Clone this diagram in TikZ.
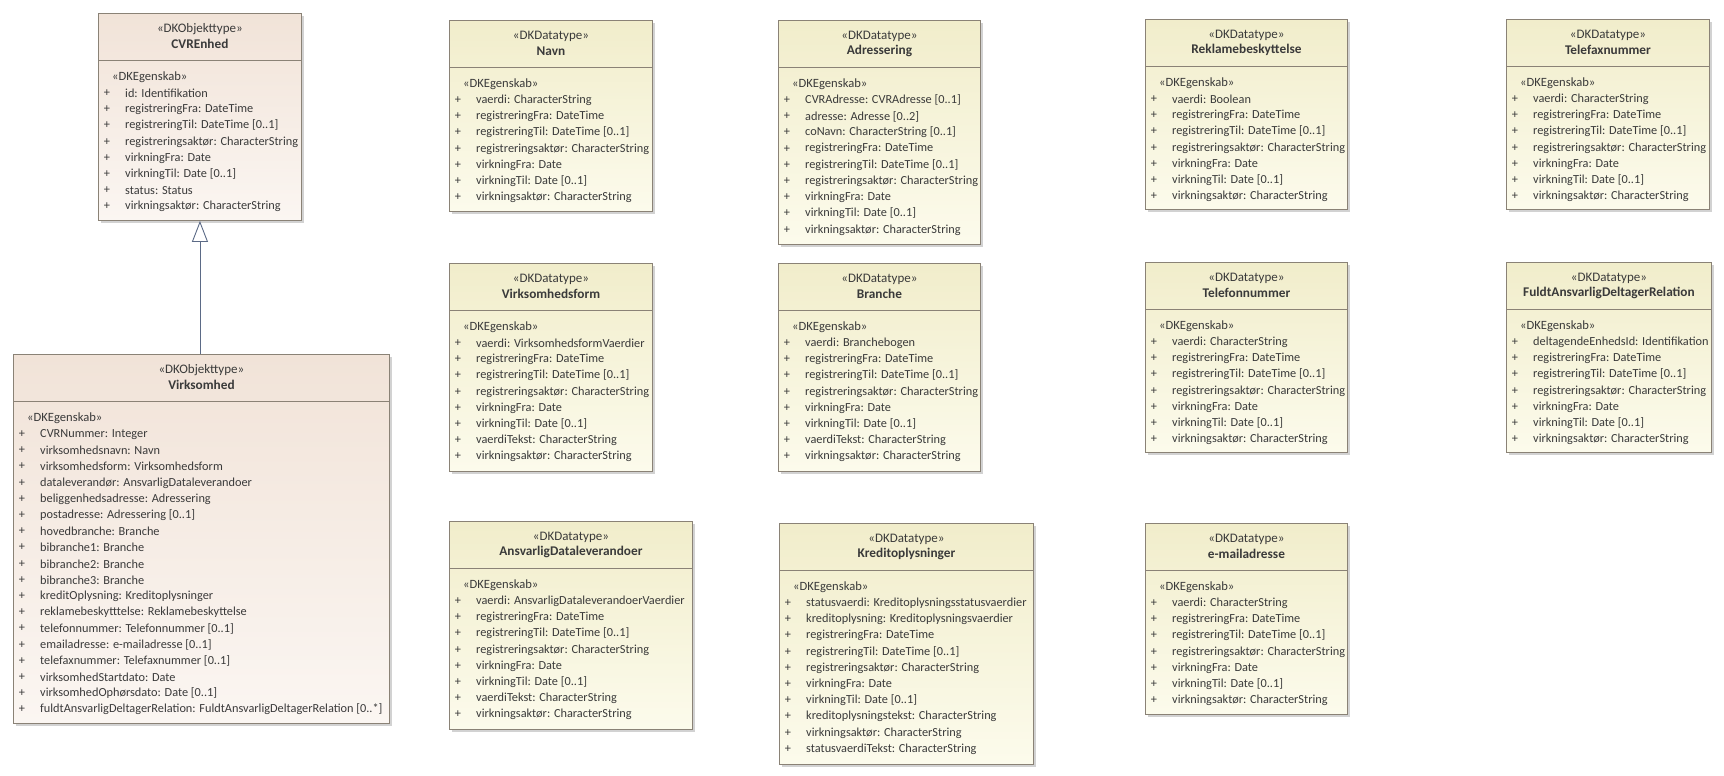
\documentclass[tikz,border=0pt]{standalone}
\usepackage{fontspec}
\setmainfont{Carlito}
\usetikzlibrary{arrows.meta,shadows}
\definecolor{bordercol}{HTML}{8A8276}
\definecolor{txtcol}{HTML}{3A3A3A}
\definecolor{objtop}{HTML}{F1E3D8}
\definecolor{objbot}{HTML}{FBF6F2}
\definecolor{dttop}{HTML}{F1EDCB}
\definecolor{dtbot}{HTML}{FCFBEC}
\definecolor{gencol}{HTML}{5B6A86}
\tikzset{
  umlbase/.style={draw=bordercol, line width=0.9pt, rectangle, inner sep=0pt,
    drop shadow={shadow xshift=3pt, shadow yshift=-3pt, fill=black!22, opacity=0.8}},
  objbox/.style={umlbase, top color=objtop, bottom color=objbot},
  dtbox/.style={umlbase, top color=dttop, bottom color=dtbot},
  divider/.style={draw=bordercol, line width=0.9pt},
  stereo/.style={font=\fontsize{13}{13}\selectfont, text=txtcol, inner sep=0pt},
  egtxt/.style={font=\fontsize{12.6}{12.6}\selectfont, text=txtcol, inner sep=0pt, anchor=west},
  titletxt/.style={font=\fontsize{13.3}{13.3}\selectfont\bfseries, text=txtcol, inner sep=0pt},
  plustxt/.style={font=\fontsize{12.3}{12.3}\selectfont, text=txtcol, inner sep=0pt},
  attrtxt/.style={font=\fontsize{12.3}{12.3}\selectfont, text=txtcol, inner sep=0pt, anchor=west},
  genline/.style={draw=gencol, line width=0.9pt, -{Triangle[open, length=21pt, width=16pt, fill=white]}}
}
% #1 name, #2 x, #3 y, #4 w, #5 h, #6 style, #7 stereotype, #8 title, #9 attributes
\newcommand\umlclass[9]{%
  \node[#6, minimum width=#4pt, minimum height=#5pt, anchor=north west] (#1) at (#2,#3) {};
  \draw[divider] ([yshift=-47pt]#1.north west) -- ([yshift=-47pt]#1.north east);
  \node[stereo] (#1-st) at ([yshift=-16pt]#1.north) {«#7»};
  \node[titletxt] (#1-ti) at ([yshift=-31pt]#1.north) {#8};
  \node[egtxt] (#1-eg) at ([xshift=14pt,yshift=-64pt]#1.north west) {«DKEgenskab»};
  \foreach \t [count=\i] in {#9} {
    \node[plustxt] (#1-p\i) at ([xshift=9pt,yshift={-64-16.2*\i}]#1.north west) {+};
    \node[attrtxt] (#1-a\i) at ([xshift=27pt,yshift={-64-16.2*\i}]#1.north west) {\t};
  }
}
\begin{document}
\begin{tikzpicture}[x=1pt,y=-1pt]
\useasboundingbox[fill=white] (0,0) rectangle (1724,776);

\umlclass{cvr}{98}{13}{203}{207}{objbox}{DKObjekttype}{CVREnhed}{%
{id: Identifikation},{registreringFra: DateTime},{registreringTil: DateTime [0..1]},%
{registreringsaktør: CharacterString},{virkningFra: Date},{virkningTil: Date [0..1]},%
{status: Status},{virkningsaktør: CharacterString}}

\umlclass{virk}{13}{354}{376}{369}{objbox}{DKObjekttype}{Virksomhed}{%
{CVRNummer: Integer},{virksomhedsnavn: Navn},{virksomhedsform: Virksomhedsform},%
{dataleverandør: AnsvarligDataleverandoer},{beliggenhedsadresse: Adressering},%
{postadresse: Adressering [0..1]},{hovedbranche: Branche},{bibranche1: Branche},%
{bibranche2: Branche},{bibranche3: Branche},{kreditOplysning: Kreditoplysninger},%
{reklamebeskytttelse: Reklamebeskyttelse},{telefonnummer: Telefonnummer [0..1]},%
{emailadresse: e-mailadresse [0..1]},{telefaxnummer: Telefaxnummer [0..1]},%
{virksomhedStartdato: Date},{virksomhedOphørsdato: Date [0..1]},%
{fuldtAnsvarligDeltagerRelation: FuldtAnsvarligDeltagerRelation [0..*]}}

\umlclass{navn}{449}{20}{203}{191}{dtbox}{DKDatatype}{Navn}{%
{vaerdi: CharacterString},{registreringFra: DateTime},{registreringTil: DateTime [0..1]},%
{registreringsaktør: CharacterString},{virkningFra: Date},{virkningTil: Date [0..1]},%
{virkningsaktør: CharacterString}}

\umlclass{adr}{778}{20}{202}{224}{dtbox}{DKDatatype}{Adressering}{%
{CVRAdresse: CVRAdresse [0..1]},{adresse: Adresse [0..2]},{coNavn: CharacterString [0..1]},%
{registreringFra: DateTime},{registreringTil: DateTime [0..1]},%
{registreringsaktør: CharacterString},{virkningFra: Date},{virkningTil: Date [0..1]},%
{virkningsaktør: CharacterString}}

\umlclass{rekl}{1145}{19}{202}{190}{dtbox}{DKDatatype}{Reklamebeskyttelse}{%
{vaerdi: Boolean},{registreringFra: DateTime},{registreringTil: DateTime [0..1]},%
{registreringsaktør: CharacterString},{virkningFra: Date},{virkningTil: Date [0..1]},%
{virkningsaktør: CharacterString}}

\umlclass{fax}{1506}{19}{203}{190}{dtbox}{DKDatatype}{Telefaxnummer}{%
{vaerdi: CharacterString},{registreringFra: DateTime},{registreringTil: DateTime [0..1]},%
{registreringsaktør: CharacterString},{virkningFra: Date},{virkningTil: Date [0..1]},%
{virkningsaktør: CharacterString}}

\umlclass{vform}{449}{263}{203}{208}{dtbox}{DKDatatype}{Virksomhedsform}{%
{vaerdi: VirksomhedsformVaerdier},{registreringFra: DateTime},{registreringTil: DateTime [0..1]},%
{registreringsaktør: CharacterString},{virkningFra: Date},{virkningTil: Date [0..1]},%
{vaerdiTekst: CharacterString},{virkningsaktør: CharacterString}}

\umlclass{branche}{778}{263}{202}{208}{dtbox}{DKDatatype}{Branche}{%
{vaerdi: Branchebogen},{registreringFra: DateTime},{registreringTil: DateTime [0..1]},%
{registreringsaktør: CharacterString},{virkningFra: Date},{virkningTil: Date [0..1]},%
{vaerdiTekst: CharacterString},{virkningsaktør: CharacterString}}

\umlclass{tlf}{1145}{262}{202}{190}{dtbox}{DKDatatype}{Telefonnummer}{%
{vaerdi: CharacterString},{registreringFra: DateTime},{registreringTil: DateTime [0..1]},%
{registreringsaktør: CharacterString},{virkningFra: Date},{virkningTil: Date [0..1]},%
{virkningsaktør: CharacterString}}

\umlclass{fuldt}{1506}{262}{205}{190}{dtbox}{DKDatatype}{FuldtAnsvarligDeltagerRelation}{%
{deltagendeEnhedsId: Identifikation},{registreringFra: DateTime},{registreringTil: DateTime [0..1]},%
{registreringsaktør: CharacterString},{virkningFra: Date},{virkningTil: Date [0..1]},%
{virkningsaktør: CharacterString}}

\umlclass{ansv}{449}{521}{243}{208}{dtbox}{DKDatatype}{AnsvarligDataleverandoer}{%
{vaerdi: AnsvarligDataleverandoerVaerdier},{registreringFra: DateTime},{registreringTil: DateTime [0..1]},%
{registreringsaktør: CharacterString},{virkningFra: Date},{virkningTil: Date [0..1]},%
{vaerdiTekst: CharacterString},{virkningsaktør: CharacterString}}

\umlclass{kredit}{779}{523}{254}{241}{dtbox}{DKDatatype}{Kreditoplysninger}{%
{statusvaerdi: Kreditoplysningsstatusvaerdier},{kreditoplysning: Kreditoplysningsvaerdier},%
{registreringFra: DateTime},{registreringTil: DateTime [0..1]},%
{registreringsaktør: CharacterString},{virkningFra: Date},{virkningTil: Date [0..1]},%
{kreditoplysningstekst: CharacterString},{virkningsaktør: CharacterString},%
{statusvaerdiTekst: CharacterString}}

\umlclass{email}{1145}{523}{202}{191}{dtbox}{DKDatatype}{e-mailadresse}{%
{vaerdi: CharacterString},{registreringFra: DateTime},{registreringTil: DateTime [0..1]},%
{registreringsaktør: CharacterString},{virkningFra: Date},{virkningTil: Date [0..1]},%
{virkningsaktør: CharacterString}}

\draw[genline] (virk.north -| cvr.south) -- (cvr.south);
\end{tikzpicture}
\end{document}
